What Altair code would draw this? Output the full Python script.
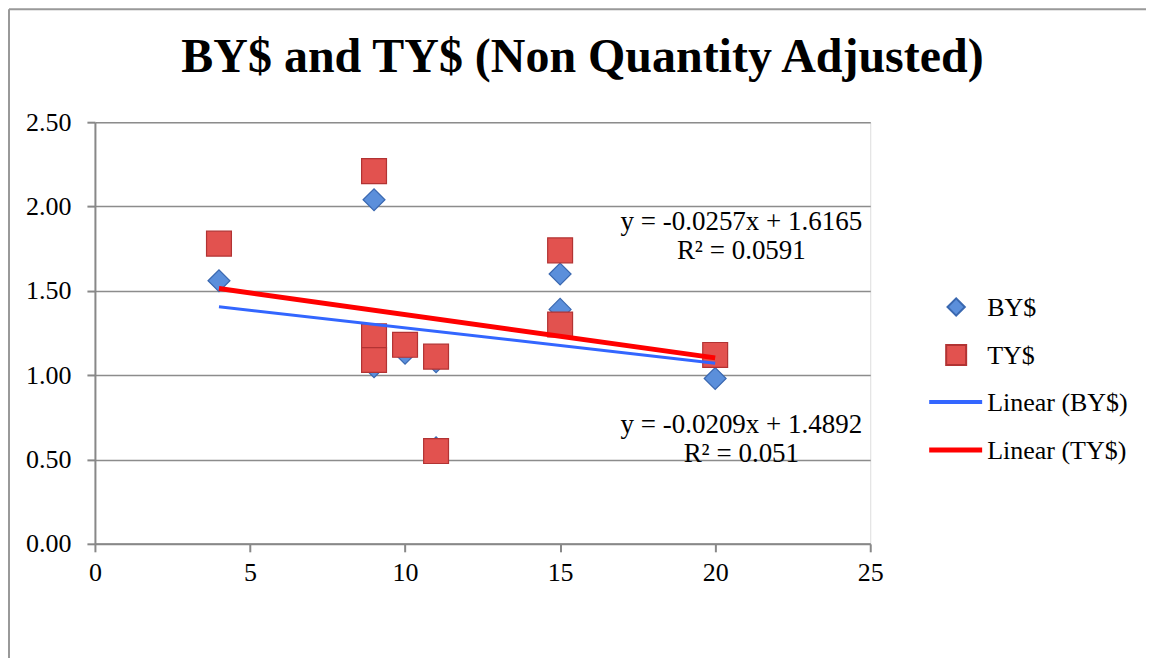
import altair as alt
import pandas as pd

# ---- data ----
by_x = [4, 9, 9, 9, 10, 11, 11, 15, 15, 20]
by_y = [1.56, 2.04, 1.20, 1.05, 1.13, 1.08, 0.57, 1.60, 1.39, 0.98]
ty_x = [4, 9, 9, 9, 10, 11, 11, 15, 15, 20]
ty_y = [1.78, 2.21, 1.23, 1.09, 1.18, 1.11, 0.55, 1.74, 1.30, 1.12]

trend_names = ["Linear (BY$)", "Linear (TY$)"]
trend_slope = [-0.0209, -0.0257]
trend_intercept = [1.4892, 1.6165]
trend_x_start = [4, 4]
trend_x_end = [20, 20]
eq_text = ["y = -0.0209x + 1.4892", "y = -0.0257x + 1.6165"]
r2_text = ["R² = 0.051", "R² = 0.0591"]

title_text = "BY$ and TY$ (Non Quantity Adjusted)"
FONT = "Liberation Serif"

W, H = 776, 422

by_df = pd.DataFrame({"x": by_x, "y": by_y})
ty_df = pd.DataFrame({"x": ty_x, "y": ty_y})
trend_rows = []
for n, s, b, x0, x1 in zip(trend_names, trend_slope, trend_intercept, trend_x_start, trend_x_end):
    trend_rows.append({"series": n, "x": x0, "slope": s, "b": b})
    trend_rows.append({"series": n, "x": x1, "slope": s, "b": b})
trend_df = pd.DataFrame(trend_rows)

xscale = alt.Scale(domain=[0, 25], nice=False)
yscale = alt.Scale(domain=[0, 2.5], nice=False)
xax = alt.Axis(values=[0, 5, 10, 15, 20, 25], grid=False, title=None, labelFontSize=26,
               labelFont=FONT, labelColor="#000", domainColor="#888", domainWidth=2,
               tickColor="#888", tickWidth=2, tickSize=8, labelPadding=8, labelFlush=False)
yax = alt.Axis(values=[0, 0.5, 1, 1.5, 2, 2.5], format=".2f", grid=True, gridColor="#8c8c8c",
               gridWidth=1.5, title=None, labelFontSize=26, labelFont=FONT, labelColor="#000",
               domainColor="#888", domainWidth=2, tickColor="#888", tickWidth=2, tickSize=8,
               labelPadding=16)

base_x = alt.X("x:Q", scale=xscale, axis=xax)
base_y = alt.Y("y:Q", scale=yscale, axis=yax)

by_pts = alt.Chart(by_df).mark_point(shape="diamond", filled=True, size=480, fill="#5B8FDB",
                                      stroke="#3A68B0", strokeWidth=1.2, opacity=1).encode(x=base_x, y=base_y)

blue_line = alt.Chart(trend_df).transform_filter(alt.datum.series == "Linear (BY$)").transform_calculate(
    yv="datum.slope * datum.x + datum.b").mark_line(color="#3366FF", strokeWidth=3).encode(
    x=alt.X("x:Q", scale=xscale), y=alt.Y("yv:Q", scale=yscale))
red_line = alt.Chart(trend_df).transform_filter(alt.datum.series == "Linear (TY$)").transform_calculate(
    yv="datum.slope * datum.x + datum.b").mark_line(color="#FF0000", strokeWidth=5).encode(
    x=alt.X("x:Q", scale=xscale), y=alt.Y("yv:Q", scale=yscale))

ty_pts = alt.Chart(ty_df).mark_point(shape="square", filled=True, size=620, fill="#E2524F",
                                      stroke="#B23333", strokeWidth=1.2, opacity=1).encode(x=base_x, y=base_y)

one = pd.DataFrame({"a": [0]})

def txt(t, x, y, size=26, weight="normal", align="center"):
    return alt.Chart(one).mark_text(text=t, font=FONT, fontSize=size, fontWeight=weight,
                                    align=align, baseline="alphabetic", color="#000").encode(
        x=alt.value(x), y=alt.value(y))

title = txt(title_text, 488, -50, size=48, weight="bold")
eq_ty = txt(eq_text[1], 647, 108, size=27)
r2_ty = txt(r2_text[1], 647, 137, size=27)
eq_by = txt(eq_text[0], 647, 311, size=27)
r2_by = txt(r2_text[0], 647, 340, size=27)

# legend
leg_d = alt.Chart(one).mark_point(shape="diamond", filled=True, size=300, fill="#5B8FDB",
                                  stroke="#3A68B0", opacity=1).encode(x=alt.value(862), y=alt.value(185))
leg_s = alt.Chart(one).mark_point(shape="square", filled=True, size=400, fill="#E2524F",
                                  stroke="#B23333", opacity=1).encode(x=alt.value(862), y=alt.value(233))
leg_bl = alt.Chart(one).mark_rule(color="#3366FF", strokeWidth=4).encode(
    x=alt.value(835), x2=alt.value(888), y=alt.value(280))
leg_rl = alt.Chart(one).mark_rule(color="#FF0000", strokeWidth=5).encode(
    x=alt.value(835), x2=alt.value(888), y=alt.value(328))
leg_t = [txt("BY$", 893, 194, align="left"), txt("TY$", 893, 242, align="left"),
         txt(trend_names[0], 893, 289, align="left"), txt(trend_names[1], 893, 337, align="left")]

# outer frame
frame_top = alt.Chart(one).mark_rule(color="#999", strokeWidth=2).encode(
    x=alt.value(-86), x2=alt.value(1060), y=alt.value(-113))
frame_left = alt.Chart(one).mark_rule(color="#999", strokeWidth=2).encode(
    x=alt.value(-86), y=alt.value(-113), y2=alt.value(540))

chart = alt.layer(frame_top, frame_left, by_pts, ty_pts, blue_line, red_line, title,
                  eq_ty, r2_ty, eq_by, r2_by, leg_d, leg_s, leg_bl, leg_rl, *leg_t).properties(
    width=W, height=H,
    padding={"left": 87, "top": 114, "right": 276, "bottom": 114},
    autosize=alt.AutoSizeParams(type="none"),
).configure_view(stroke=None).configure(background="white")

chart.save("out.html", embed_options={"renderer": "svg", "actions": False})
